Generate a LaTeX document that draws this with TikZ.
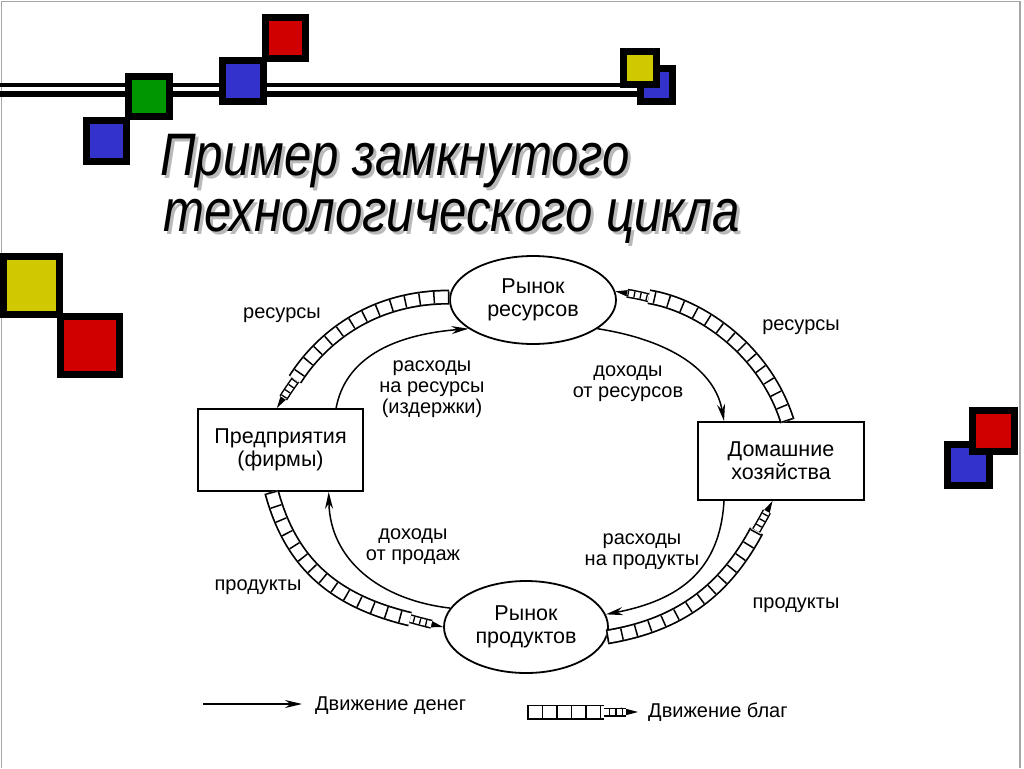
\documentclass[tikz,border=0pt]{standalone}
\usepackage{fontspec}
\setmainfont{Liberation Sans}
\newfontfamily\titlefont{Liberation Sans}[FakeStretch=0.82]
\usetikzlibrary{arrows.meta,shapes.geometric}
\definecolor{sqblue}{RGB}{51,51,204}
\definecolor{sqred}{RGB}{208,0,0}
\definecolor{sqgreen}{RGB}{0,150,0}
\definecolor{sqyellow}{RGB}{208,200,0}
\newcommand\sqbox[5]{\draw[line width=7pt,fill=#1] (#2+3.5,#3+3.5) rectangle (#4-3.5,#5-3.5);}
\newcommand\goodsarrow[1]{%
  \draw[goodstip] #1;
  \draw[goodsmid] #1;
  \draw[goodsband] #1;}
\tikzset{
  lbl/.style={font=\fontsize{20}{21}\selectfont, align=center, inner sep=0pt},
  boxnode/.style={draw, line width=1.8pt, inner sep=0pt, align=center,
    font=\fontsize{21.5}{23}\selectfont},
  ellnode/.style={draw, ellipse, line width=1.8pt, inner sep=0pt, align=center,
    font=\fontsize{21.5}{23}\selectfont},
  money/.style={line width=1.5pt, -{Stealth[length=17pt,width=8pt]}},
  goodstip/.style={line width=1.2pt, -{Stealth[length=17pt,width=9pt]}},
  goodsmid/.style={line width=9pt, shorten >=12pt,
    postaction={draw=white, line width=6pt, shorten >=12pt},
    postaction={draw=black, line width=6pt, shorten >=12pt, dash pattern=on 1.3pt off 5pt}},
  goodsband/.style={line width=15pt, shorten >=34pt,
    postaction={draw=white, line width=11.5pt, shorten >=34pt},
    postaction={draw=black, line width=11.5pt, shorten >=34pt, dash pattern=on 1.5pt off 13pt}},
  titletext/.style={font=\titlefont\itshape\fontsize{60}{60}\selectfont, anchor=base west, inner sep=0pt}
}
\begin{document}
\begin{tikzpicture}[x=1pt,y=-1pt]
\useasboundingbox (0,0) rectangle (1024,768);
\fill[white] (0,0) rectangle (1024,768);
% slide border
\draw[gray!70, line width=1.5pt] (1.5,768) -- (1.5,1.5) -- (1020,1.5) -- (1020,768);
% decorative double line
\draw[line width=4pt] (0,85) -- (642,85);
\draw[line width=6pt] (0,94) -- (642,94);
% decorative squares
\sqbox{sqblue}{83}{117}{130}{165}
\sqbox{sqgreen}{125}{73}{173}{120}
\sqbox{sqblue}{219}{57}{267}{105}
\sqbox{sqred}{262}{14}{309}{62}
\sqbox{sqblue}{637}{65}{676}{105}
\sqbox{sqyellow}{620}{48}{660}{88}
\sqbox{sqyellow}{0}{253}{63}{318}
\sqbox{sqred}{57}{313}{123}{378}
\sqbox{sqblue}{944}{441}{993}{489}
\sqbox{sqred}{969}{407}{1018}{455}
% title with shadow
\node[titletext, text=gray!55] (t1s) at (163,178) {Пример замкнутого};
\node[titletext, text=gray!55] (t2s) at (166,234) {технологического цикла};
\node[titletext] (t1) at (160,175) {Пример замкнутого};
\node[titletext] (t2) at (163,231) {технологического цикла};
% main nodes
\node[ellnode, minimum width=166pt, minimum height=88pt] (rr) at (533,300) {Рынок\\ресурсов};
\node[ellnode, minimum width=164pt, minimum height=92pt] (rp) at (526,627) {Рынок\\продуктов};
\node[boxnode, minimum width=165pt, minimum height=82pt] (pf) at (280.5,450) {Предприятия\\(фирмы)};
\node[boxnode, minimum width=166pt, minimum height=78pt] (dh) at (781,461) {Домашние\\хозяйства};
% goods flows
\goodsarrow{(rr.178) .. controls (370,297) and (320,340) .. (pf.95)}
\goodsarrow{(dh.81) .. controls (765,350) and (700,305) .. (rr.6)}
\goodsarrow{(pf.258) .. controls (290,560) and (330,600) .. (rp.180)}
\goodsarrow{(rp.353) .. controls (680,625) and (725,590) .. (dh.258)}
% money flows
\draw[money] (pf.37) .. controls (345,360) and (390,335) .. (rr.204);
\draw[money] (rr.336) .. controls (670,340) and (715,370) .. (dh.145);
\draw[money] (dh.215) .. controls (720,570) and (680,600) .. (rp.9);
\draw[money] (rp.166) .. controls (380,600) and (330,560) .. (pf.319);
% labels
\node[lbl, anchor=base] (l1) at (282,318) {ресурсы};
\node[lbl, anchor=base] (l2) at (801,330) {ресурсы};
\node[lbl, anchor=base] (l3) at (432,413) {расходы\\на ресурсы\\(издержки)};
\node[lbl, anchor=base] (l4) at (628,397) {доходы\\от ресурсов};
\node[lbl, anchor=base] (l5) at (413,560) {доходы\\от продаж};
\node[lbl, anchor=base] (l6) at (642,565) {расходы\\на продукты};
\node[lbl, anchor=base] (l7) at (258,590) {продукты};
\node[lbl, anchor=base] (l8) at (796,608) {продукты};
% legend
\coordinate (m0) at (203,704);
\coordinate (m1) at (302,704);
\draw[money] (m0) -- (m1);
\node[lbl, anchor=base west] (lg1) at (315,710) {Движение денег};
\coordinate (g0) at (527,712);
\coordinate (g1) at (638,712);
\goodsarrow{(g0) -- (g1)}
\node[lbl, anchor=base west] (lg2) at (648,717) {Движение благ};
\end{tikzpicture}
\end{document}
